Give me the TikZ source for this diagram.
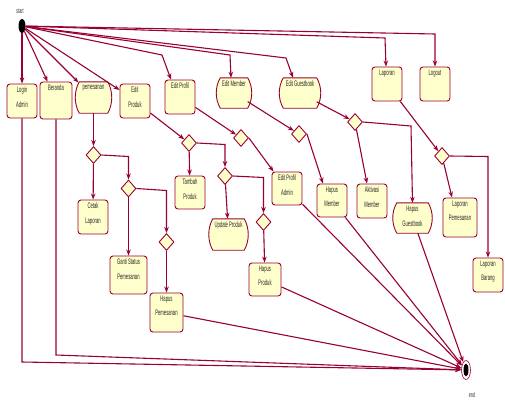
\documentclass[tikz,border=0pt]{standalone}
\usepackage{fontspec}
\setmainfont[FakeStretch=0.52]{Liberation Sans}
\usepackage{xcolor}
\usetikzlibrary{calc, shapes.geometric, arrows.meta}

\definecolor{umlLine}{HTML}{990033}
\definecolor{umlFill}{HTML}{FFFFCC}

\tikzset{
	act/.style = {draw = umlLine, fill = umlFill, line width = 0.9pt, rounded corners = 3pt, inner sep = 0pt},
	stad/.style = {draw = umlLine, fill = umlFill, line width = 0.9pt, line join = round},
	txt/.style = {anchor = north, align = center, font = \fontsize{8}{14.5}\selectfont, text = black!85, inner sep = 3pt},
	dec/.style = {draw = umlLine, fill = umlFill, line width = 0.9pt, diamond, minimum width = 15pt, minimum height = 17pt, inner sep = 0pt},
	flow/.style = {draw = umlLine, line width = 1.1pt, -{Stealth[length = 6pt, width = 4.5pt]}},
}

\newcommand{\actStadium}[5]{%
	\node (#1) [inner sep = 0pt, minimum width = #3, minimum height = #4] at (#2) {};
	\draw [stad] (#1.north west) -- (#1.north east) .. controls ($ (#1.north east) + (5.4,9.3) $) and ($ (#1.south east) + (5.4,-9.3) $) .. (#1.south east) -- (#1.south west) .. controls ($ (#1.south west) + (-5.4,-9.3) $) and ($ (#1.north west) + (-5.4,9.3) $) .. (#1.north west) -- cycle;
	\node (#1Text) [txt] at (#1.north) {#5};
}

\begin{document}
\begin{tikzpicture}[x = 1pt, y = -1pt]
		\useasboundingbox (0,0) rectangle (505,402);

		\node (Start) [ellipse, fill = black, minimum width = 7pt, minimum height = 14pt, inner sep = 0pt] at (22,26) {};
		\node (StartText) [font = \fontsize{7}{8}\selectfont, text = black!85] at (20,11) {start};

		\node (End) [ellipse, draw = umlLine, fill = white, line width = 0.6pt, minimum width = 9pt, minimum height = 19pt, inner sep = 0pt] at (466,370) {};
		\node (EndDot) [ellipse, fill = black, minimum width = 5pt, minimum height = 13pt, inner sep = 0pt] at (End) {};
		\node (EndText) [font = \fontsize{7}{8}\selectfont, text = black!85] at (472,395) {end};

		\node (LoginAdmin) [act, minimum width = 30pt, minimum height = 34pt, label = {[txt]north:{Login\\Admin}}] at (22,101) {};
		\node (Beranda) [act, minimum width = 32pt, minimum height = 37pt, label = {[txt]north:Beranda}] at (56,100.5) {};
		\actStadium{Pemesanan}{93.5,97.5}{28pt}{31pt}{pemesanan}
		\node (EditProduk) [act, minimum width = 30pt, minimum height = 34pt, label = {[txt]north:{Edit\\Produk}}] at (135,101) {};
		\node (EditProfil) [act, minimum width = 30pt, minimum height = 34pt, label = {[txt]north:Edit Profil}] at (180,97) {};
		\actStadium{EditMember}{234,93}{27pt}{30pt}{Edit Member}
		\actStadium{EditGuestbook}{300,93}{33pt}{30pt}{Edit Guestbook}
		\node (Laporan) [act, minimum width = 30pt, minimum height = 34pt, label = {[txt]north:Laporan}] at (387,84) {};
		\node (Logout) [act, minimum width = 30pt, minimum height = 34pt, label = {[txt]north:Logout}] at (435,84) {};

		\node (D1) [dec] at (93.5,155) {};
		\node (D2) [dec] at (128.5,188.5) {};
		\node (D3) [dec] at (166.5,242) {};
		\node (D4) [dec] at (189,143) {};
		\node (D5) [dec] at (241,138) {};
		\node (D6) [dec] at (225,176) {};
		\node (D7) [dec] at (263.5,222) {};
		\node (D8) [dec] at (299,134) {};
		\node (D9) [dec] at (355,122) {};
		\node (D10) [dec] at (442,156) {};

		\node (CetakLaporan) [act, minimum width = 30pt, minimum height = 34pt, label = {[txt]north:{Cetak\\Laporan}}] at (93,217) {};
		\node (GantiStatus) [act, minimum width = 37pt, minimum height = 38pt, label = {[txt]north:{Ganti Status\\Pemesanan}}] at (128.5,275) {};
		\node (HapusPemesanan) [act, minimum width = 33pt, minimum height = 39pt, label = {[txt]north:{Hapus\\Pemesanan}}] at (166.5,312.5) {};
		\node (TambahProduk) [act, minimum width = 30pt, minimum height = 33pt, label = {[txt]north:{Tambah\\Produk}}] at (190,192.5) {};
		\actStadium{UpdateProduk}{228.5,234.5}{31pt}{31pt}{Update Produk}
		\node (EditProfilAdmin) [act, minimum width = 30pt, minimum height = 33pt, label = {[txt]north:{Edit Profil\\Admin}}] at (287,188.5) {};
		\node (HapusProduk) [act, minimum width = 32pt, minimum height = 33pt, label = {[txt]north:{Hapus\\Produk}}] at (265,279.5) {};
		\node (HapusMember) [act, minimum width = 30pt, minimum height = 33pt, label = {[txt]north:{Hapus\\Member}}] at (332,200.5) {};
		\node (AktivasiMember) [act, minimum width = 30pt, minimum height = 34pt, label = {[txt]north:{Aktivasi\\Member}}] at (372,201) {};
		\actStadium{HapusGuestbook}{412.5,218}{31pt}{30pt}{Hapus\\Guestbook}
		\node (LaporanPemesanan) [act, minimum width = 34pt, minimum height = 39pt, label = {[txt]north:{Laporan\\Pemesanan}}] at (460,217.5) {};
		\node (LaporanBarang) [act, minimum width = 30pt, minimum height = 34pt, label = {[txt]north:{Laporan\\Barang}}] at (488,275) {};

		\coordinate (BendProfil) at (162,55);
		\coordinate (BendMember) at (230,55);
		\coordinate (BendGuestbook) at (286,58);
		\coordinate (BendLaporan) at (385,38);
		\coordinate (BendLogout) at (435,34);
		\coordinate (BendLogin) at (22,362);
		\coordinate (BendBeranda) at (56,355);
		\coordinate (BendD2) at (128.5,156.5);
		\coordinate (BendD3) at (166.5,190.5);
		\coordinate (BendD6) at (225,144.5);
		\coordinate (BendD7) at (263.5,177.5);
		\coordinate (BendGuest) at (411,126);
		\coordinate (BendBarang) at (488,156.5);

		\draw [flow] (Start) -- (LoginAdmin);
		\draw [flow] (Start) -- ($ (Beranda.north west) + (8,0) $);
		\draw [flow] (Start) -- ($ (Pemesanan.center) + (-15,-15) $);
		\draw [flow] (Start) -- ($ (EditProduk.west) + (0,-11) $);
		\draw [flow] (Start) -- (BendProfil) -- ($ (EditProfil.north) + (-9,0) $);
		\draw [flow] (Start) -- (BendMember) -- ($ (EditMember.north) + (-3,0) $);
		\draw [flow] (Start) -- (BendGuestbook) -- ($ (EditGuestbook.north) + (-7,0) $);
		\draw [flow] (Start) -- (BendLaporan) -- ($ (Laporan.north) + (-1,0) $);
		\draw [flow] (Start) -- (BendLogout) -- (Logout.north);

		\draw [flow] (Pemesanan) -- (D1);
		\draw [flow] (D1) -- (CetakLaporan);
		\draw [flow] (D1.east) -- (BendD2) -- (D2.north);
		\draw [flow] (D2) -- (GantiStatus);
		\draw [flow] (D2.east) -- (BendD3) -- (D3.north);
		\draw [flow] (D3) -- (HapusPemesanan);

		\draw [flow] (EditProduk) -- (D4);
		\draw [flow] (D4) -- (TambahProduk);
		\draw [flow] (D4.east) -- (BendD6) -- (D6.north);
		\draw [flow] (D6) -- (UpdateProduk);
		\draw [flow] (D6.east) -- (BendD7) -- (D7.north);
		\draw [flow] (D7) -- (HapusProduk);

		\draw [flow] (EditProfil) -- (D5);
		\draw [flow] (D5.east) -- ($ (EditProfilAdmin.north west) + (2,0) $);

		\draw [flow] (EditMember) -- (D8);
		\draw [flow] (D8.east) -- ($ (HapusMember.north) + (-9,0) $);

		\draw [flow] (EditGuestbook) -- (D9);
		\draw [flow] (D9) -- ($ (AktivasiMember.north) + (-5,0) $);
		\draw [flow] (D9.east) -- (BendGuest) -- (HapusGuestbook.north);

		\draw [flow] (Laporan) -- (D10);
		\draw [flow] (D10) -- ($ (LaporanPemesanan.north) + (-8,0) $);
		\draw [flow] (D10.east) -- (BendBarang) -- (LaporanBarang.north);

		\draw [flow] (LoginAdmin) -- (BendLogin) -- (End);
		\draw [flow] (Beranda) -- (BendBeranda) -- (End);
		\draw [flow] (HapusPemesanan) -- (End);
		\draw [flow] (HapusProduk) -- (End);
		\draw [flow] (EditProfilAdmin) -- (End);
		\draw [flow] (HapusMember) -- (End);
		\draw [flow] (HapusGuestbook) -- (End);
	\end{tikzpicture}
\end{document}
